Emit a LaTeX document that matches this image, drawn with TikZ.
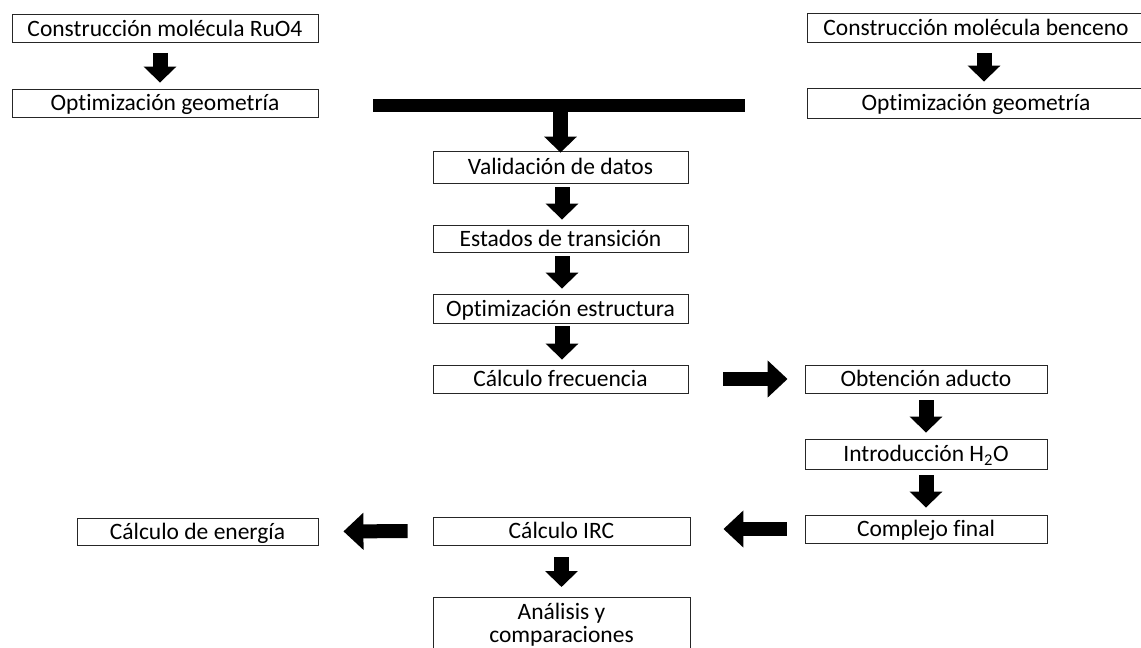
\documentclass[tikz,border=0pt]{standalone}
\usepackage{fontspec}
\setmainfont[Ligatures=NoCommon]{Carlito}
\usetikzlibrary{arrows.meta,calc}
\begin{document}
\begin{tikzpicture}[x=1pt,y=-1pt,
  txt/.style={font=\fontsize{23.5}{26}\selectfont, text=black},
  box/.style={txt, draw=black!85, line width=0.9pt, fill=white, inner sep=0pt,
    align=center, text height=18pt, text depth=3pt},
  darr/.style={line width=15pt, -{Triangle[width=32pt,length=16pt]}, black},
  harr/.style={line width=14pt, -{Triangle[width=36pt,length=20pt]}, black}]
\useasboundingbox (0,0) rectangle (1141,648);
\clip (0,0) rectangle (1141,648);

% left column top
\node[box, minimum width=306pt, minimum height=28pt] (ru) at (165,28.5) {Construcción molécula RuO4};
\node[box, minimum width=306pt, minimum height=28pt] (og1) at (165,103) {Optimización geometría};
% right column top
\node[box, minimum width=338pt, minimum height=29pt] (be) at (976,28) {Construcción molécula benceno};
\node[box, minimum width=338pt, minimum height=30pt] (og2) at (976,103) {Optimización geometría};
% bar
\node[fill=black, inner sep=0pt, minimum width=372pt, minimum height=13pt] (bar) at (559,105.5) {};
% central column
\node[box, minimum width=255pt, minimum height=32pt] (val) at (560.5,167) {Validación de datos};
\node[box, minimum width=255pt, minimum height=27pt] (est) at (560.5,238.5) {Estados de transición};
\node[box, minimum width=255pt, minimum height=29pt] (opt) at (560.5,308.5) {Optimización estructura};
\node[box, minimum width=255pt, minimum height=28pt] (cf) at (560.5,379) {Cálculo frecuencia};
% right column
\node[box, minimum width=242pt, minimum height=28pt] (oa) at (926,379) {Obtención aducto};
\node[box, minimum width=242pt, minimum height=30pt] (ih) at (926,454) {Introducción H\textsubscript{2}O};
\node[box, minimum width=242pt, minimum height=28pt] (cfin) at (926,529) {Complejo final};
% bottom
\node[box, minimum width=257pt, minimum height=28pt] (irc) at (561.5,531) {Cálculo IRC};
\node[box, minimum width=241pt, minimum height=27pt] (ene) at (197.5,531.5) {Cálculo de energía};
\draw[line width=0.9pt, draw=black!85, fill=white] (433,597) rectangle (690,670);
\node[txt, anchor=base, inner sep=0pt] (an1) at (561.5,619) {Análisis y};
\node[txt, anchor=base, inner sep=0pt] (an2) at (561.5,642) {comparaciones};
\coordinate (antop) at (561.5,597);

% arrows
\draw[darr, shorten <=10pt, shorten >=6pt] ($(ru.south)+(-5,0)$) -- ($(og1.north)+(-5,0)$);
\draw[darr, shorten <=10pt, shorten >=6pt] ($(be.south)+(8,0)$) -- ($(og2.north)+(8,0)$);
\draw[darr, shorten <=0pt, shorten >=-2pt] ($(bar.south)+(1.5,0)$) -- (val.north);
\draw[darr, shorten <=4pt, shorten >=5pt] ($(val.south)+(1.5,0)$) -- ($(est.north)+(1.5,0)$);
\draw[darr, shorten <=4pt, shorten >=5pt] ($(est.south)+(1.5,0)$) -- ($(opt.north)+(1.5,0)$);
\draw[darr, shorten <=3pt, shorten >=5pt] ($(opt.south)+(1.5,0)$) -- ($(cf.north)+(1.5,0)$);
\draw[harr, shorten <=35pt, shorten >=17pt] (cf.east) -- (oa.west);
\draw[darr, shorten <=7pt, shorten >=6pt] (oa.south) -- (ih.north);
\draw[darr, shorten <=6pt, shorten >=7pt] (ih.south) -- (cfin.north);
\draw[harr, shorten <=18pt, shorten >=33pt] (cfin.west) -- ($(irc.east)+(0,-2)$);
\draw[harr, shorten <=25pt, shorten >=25pt] (irc.west) -- (ene.east);
\draw[darr, shorten <=12pt, shorten >=10pt] (irc.south) -- (antop);
\end{tikzpicture}
\end{document}
